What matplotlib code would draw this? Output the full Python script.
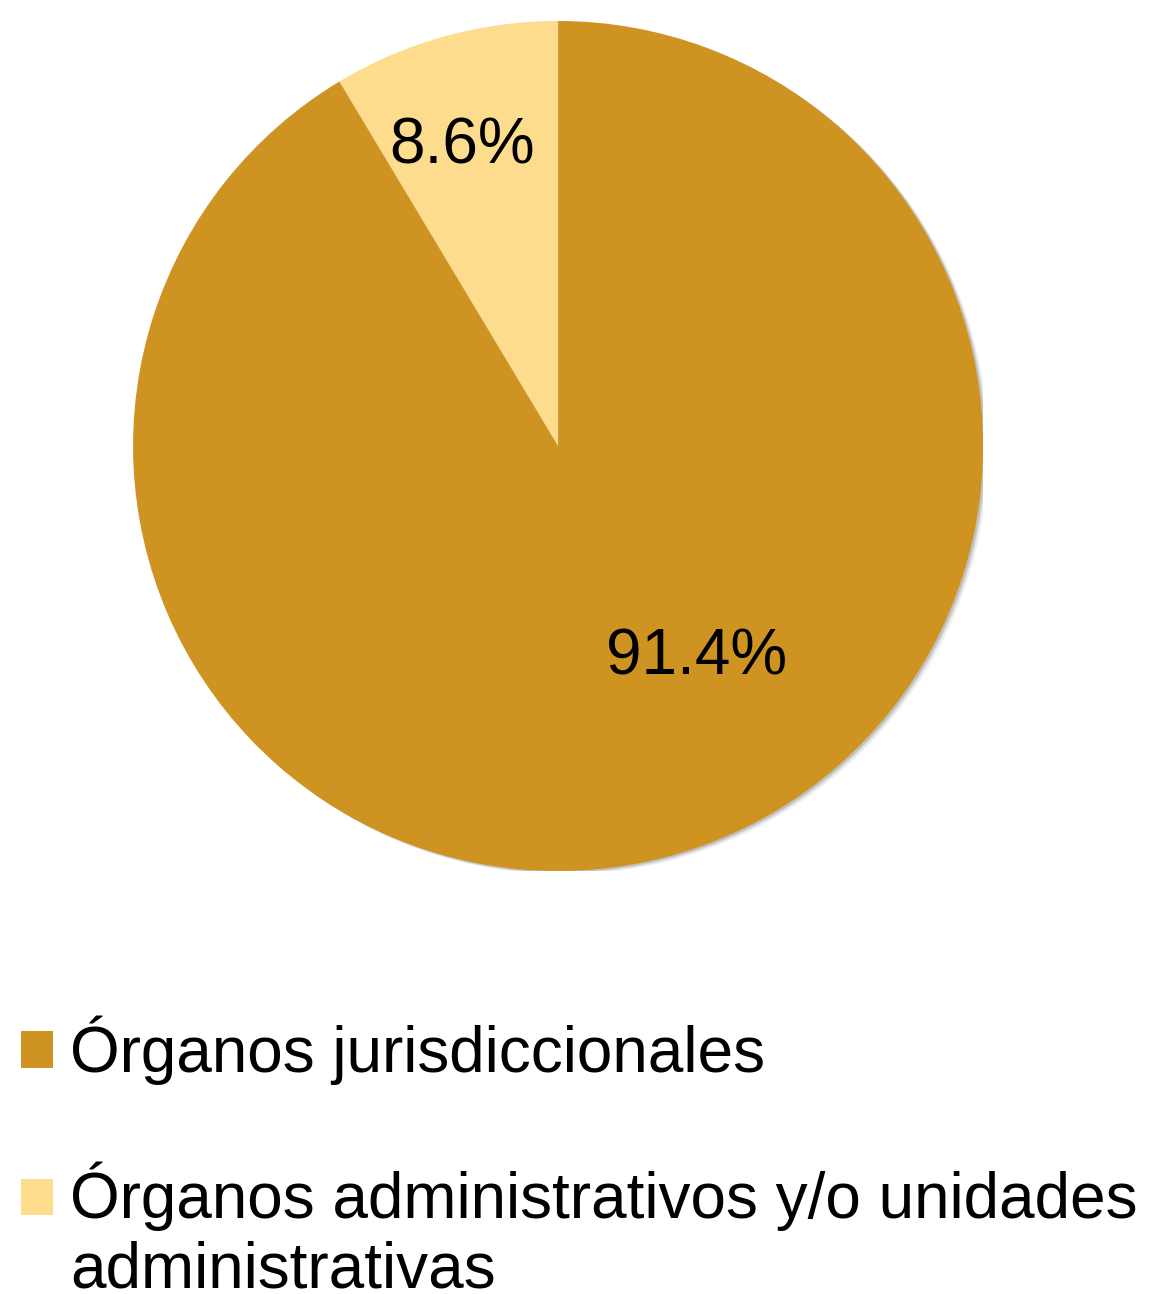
import matplotlib.pyplot as plt
from matplotlib.patches import Circle

plt.rcParams['font.family'] = ['Liberation Sans', 'DejaVu Sans']

categories = ['Órganos jurisdiccionales',
              'Órganos administrativos y/o unidades\nadministrativas']
values = [91.4, 8.6]
pct_labels = ['91.4%', '8.6%']
colors = ['#CF9322', '#FDDD8D']

fig = plt.figure(figsize=(11.54, 12.94), dpi=100)
ax = fig.add_axes([0.1153, 0.3269, 0.7366, 0.6569])

# soft shadow to the lower right
for k, a in zip([0.020, 0.013, 0.008], [0.12, 0.18, 0.28]):
    ax.add_patch(Circle((k * 0.6, -k * 0.4), 1.0, color='#7f7f7f', alpha=a, lw=0, zorder=0))

wedges, _ = ax.pie(values, colors=colors, startangle=90, counterclock=False,
                   radius=1.0, wedgeprops=dict(linewidth=0))
for w in wedges:
    w.set_zorder(2)

# label positions (fraction of radius), as placed in the original
label_pos = [(0.325, -0.498), (-0.225, 0.704)]
for (x, y), t in zip(label_pos, pct_labels):
    ax.text(x, y, t, ha='center', va='center', fontsize=46, color='black', zorder=3)

ax.set_xlim(-1, 1)
ax.set_ylim(-1, 1)
ax.set_aspect('equal')
ax.axis('off')

leg = fig.legend(wedges, categories, loc='upper left', bbox_to_anchor=(0.018, 0.215),
                 frameon=False, fontsize=46, handlelength=0.5, handleheight=0.5,
                 handletextpad=0.27, labelspacing=1.2, borderaxespad=0, borderpad=0)

# keep the swatch of the two-line entry level with its first line
h = leg.legend_handles[1]
h.set_y(h.get_y() + 25.5)

fig.savefig('out.png', dpi=100)
